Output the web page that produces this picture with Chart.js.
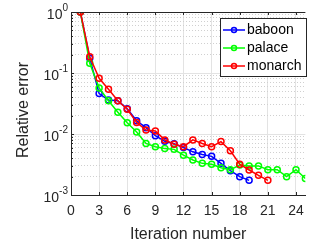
<!DOCTYPE html>
<html>
<head>
<meta charset="utf-8">
<script src="https://cdn.jsdelivr.net/npm/chart.js@4.4.0/dist/chart.umd.min.js"></script>
<style>
  body { margin: 0; background: #fff; }
</style>
</head>
<body>
<canvas id="chart" width="312" height="244"></canvas>
<script>
const iterations = [1, 2, 3, 4, 5, 6, 7, 8, 9, 10, 11, 12, 13, 14, 15, 16, 17, 18, 19, 20, 21, 22, 23, 24, 25];
const baboon = [1, 0.175, 0.046, 0.036, 0.035, 0.026, 0.0165, 0.0127, 0.0094, 0.0076, 0.0069, 0.0060, 0.0051, 0.0046, 0.0043, 0.0033, 0.0025, 0.0020, 0.00174];
const palace = [1, 0.144, 0.057, 0.035, 0.0227, 0.0153, 0.0108, 0.0070, 0.0062, 0.0058, 0.0056, 0.0045, 0.00375, 0.0033, 0.0032, 0.0028, 0.0026, 0.0031, 0.0030, 0.0030, 0.0026, 0.0026, 0.0020, 0.0026, 0.00186];
const monarch = [1, 0.185, 0.082, 0.054, 0.035, 0.0254, 0.0155, 0.0116, 0.0112, 0.0080, 0.0068, 0.0062, 0.0080, 0.0070, 0.0062, 0.0075, 0.0053, 0.0032, 0.00257, 0.0021, 0.00174];
const xTicks = [0, 3, 6, 9, 12, 15, 18, 21, 24];
const yDecades = [1, 0.1, 0.01, 0.001];
const yExponents = ["0", "-1", "-2", "-3"];

const FONT = "'Liberation Sans', Arial, sans-serif";
const AXIS = "#262626";

function points(values) {
  return values.map((v, i) => ({ x: iterations[i], y: v }));
}

function series(label, values, color, order) {
  return {
    label,
    data: points(values),
    borderColor: color,
    backgroundColor: "rgba(0,0,0,0)",
    borderWidth: 1.5,
    pointRadius: 3,
    pointBorderWidth: 1.5,
    pointBackgroundColor: "rgba(0,0,0,0)",
    pointBorderColor: color,
    tension: 0,
    order
  };
}

// minor + major ticks for the log axis
const yTickValues = [];
[0.001, 0.01, 0.1].forEach(d => {
  for (let k = 1; k < 10; k++) yTickValues.push(+(d * k).toPrecision(3));
});
yTickValues.push(1);

const isMajor = v => yDecades.some(d => Math.abs(d - v) < d * 1e-6);

// y labels with superscripts, tick marks, top border and legend box
const matlabBits = {
  id: "matlabBits",
  afterDraw(chart) {
    const { ctx, chartArea: a, scales } = chart;
    const x = scales.x, y = scales.y;
    ctx.save();

    // tick marks pointing inwards
    ctx.strokeStyle = AXIS;
    ctx.lineWidth = 1;
    ctx.beginPath();
    xTicks.forEach(t => {
      const px = Math.round(x.getPixelForValue(t)) + 0.5;
      ctx.moveTo(px, a.bottom); ctx.lineTo(px, a.bottom - 3);
      ctx.moveTo(px, a.top); ctx.lineTo(px, a.top + 3);
    });
    yTickValues.forEach(v => {
      const py = Math.round(y.getPixelForValue(v)) + 0.5;
      const len = isMajor(v) ? 3 : 2;
      ctx.moveTo(a.left, py); ctx.lineTo(a.left + len, py);
    });
    // top border
    ctx.moveTo(a.left, Math.round(a.top) + 0.5);
    ctx.lineTo(a.right, Math.round(a.top) + 0.5);
    ctx.stroke();

    // y tick labels 10^n
    ctx.fillStyle = AXIS;
    ctx.textBaseline = "middle";
    yDecades.forEach((d, i) => {
      const py = y.getPixelForValue(d) + 3;
      ctx.font = "10px " + FONT;
      const ew = ctx.measureText(yExponents[i]).width;
      const baseRight = a.left - 3 - ew;
      ctx.font = "14px " + FONT;
      ctx.textAlign = "right";
      ctx.fillText("10", baseRight, py);
      ctx.font = "10px " + FONT;
      ctx.textAlign = "left";
      ctx.fillText(yExponents[i], baseRight, py - 7);
    });

    // y title, a bit right of the edge like the original
    ctx.save();
    ctx.translate(24, 110);
    ctx.rotate(-Math.PI / 2);
    ctx.font = "16px " + FONT;
    ctx.fillStyle = AXIS;
    ctx.textAlign = "center";
    ctx.textBaseline = "middle";
    ctx.fillText("Relative error", 0, 0);
    ctx.restore();

    // legend
    const lx = 220, ly = 18, lw = 86, lh = 58;
    ctx.fillStyle = "#fff";
    ctx.fillRect(lx, ly, lw, lh);
    ctx.strokeStyle = AXIS;
    ctx.lineWidth = 1;
    ctx.strokeRect(lx + 0.5, ly + 0.5, lw, lh);
    ctx.font = "14px " + FONT;
    ctx.textAlign = "left";
    ctx.textBaseline = "middle";
    [0, 1, 2].forEach(i => {
      const ds = chart.data.datasets[i];
      const cy = ly + 12 + i * 18;
      ctx.strokeStyle = ds.borderColor;
      ctx.lineWidth = 1.5;
      ctx.beginPath();
      ctx.moveTo(lx + 3, cy); ctx.lineTo(lx + 25, cy);
      ctx.stroke();
      ctx.beginPath();
      ctx.arc(lx + 14, cy, 2.5, 0, Math.PI * 2);
      ctx.stroke();
      ctx.fillStyle = "#000";
      ctx.fillText(ds.label, lx + 27, cy);
    });
    ctx.restore();
  }
};

new Chart(document.getElementById("chart"), {
  type: "line",
  data: {
    datasets: [
      series("baboon", baboon, "#0000ff", 3),
      series("palace", palace, "#00ff00", 2),
      series("monarch", monarch, "#ff0000", 1)
    ]
  },
  options: {
    responsive: false,
    animation: false,
    layout: { padding: { top: 12, right: 0, left: 0, bottom: 0 } },
    plugins: { legend: { display: false }, tooltip: { enabled: false } },
    scales: {
      x: {
        type: "linear",
        min: 0,
        max: 25,
        afterBuildTicks: s => { s.ticks = xTicks.map(v => ({ value: v })); },
        afterFit: s => { s.height = 49; },
        ticks: { color: AXIS, font: { family: FONT, size: 14 }, padding: 8, maxRotation: 0 },
        grid: { color: "#e3e3e3", drawTicks: false },
        border: { color: AXIS },
        title: {
          display: true, text: "Iteration number", color: AXIS,
          font: { family: FONT, size: 16 }, padding: { top: 3, bottom: 0 }
        }
      },
      y: {
        type: "logarithmic",
        min: 0.001,
        max: 1,
        afterBuildTicks: s => { s.ticks = yTickValues.map(v => ({ value: v })); },
        afterFit: s => { s.width = 71; },
        ticks: { display: false },
        grid: {
          drawTicks: false,
          color: ctx => isMajor(ctx.tick.value) ? "#e3e3e3" : "#d0d0d0"
        },
        border: { color: AXIS, dash: ctx => isMajor(ctx.tick.value) ? [] : [1, 2] }
      }
    }
  },
  plugins: [matlabBits]
});
</script>
</body>
</html>
